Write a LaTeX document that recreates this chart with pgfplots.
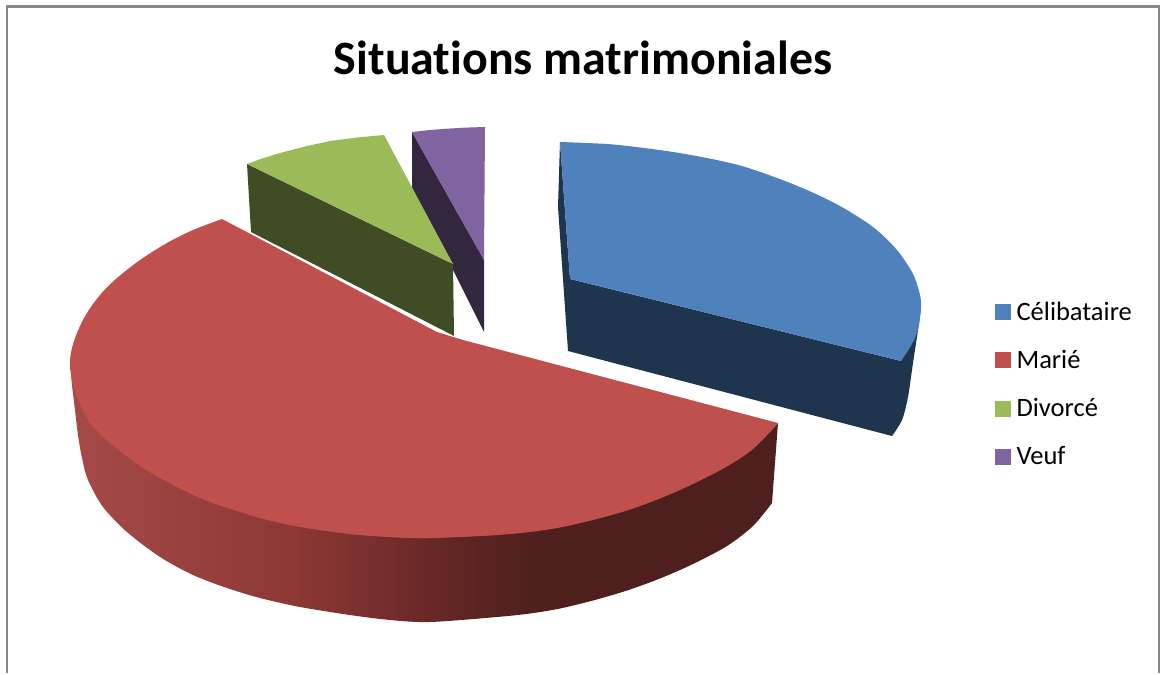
\documentclass[border=0pt]{standalone}
\usepackage{pgfplots}
\pgfplotsset{compat=1.18}
\usepackage{fontspec}
\setmainfont[Ligatures=NoCommon]{Carlito}

\definecolor{celib}{HTML}{4F81BD}
\definecolor{celibdark}{HTML}{1F344D}
\definecolor{marie}{HTML}{C0504D}
\definecolor{mariedark}{HTML}{4E1F1D}
\definecolor{divorce}{HTML}{9BBB59}
\definecolor{divorcedark}{HTML}{3F4C24}
\definecolor{veuf}{HTML}{8064A2}
\definecolor{veufdark}{HTML}{33263F}

% rim of the largest slice, darkening from left to right
\pgfdeclarehorizontalshading{rimshade}{100bp}{
  rgb(0bp)=(0.651,0.290,0.278);
  rgb(25bp)=(0.651,0.290,0.278);
  rgb(41bp)=(0.549,0.220,0.208);
  rgb(50bp)=(0.420,0.161,0.153);
  rgb(55bp)=(0.340,0.133,0.125);
  rgb(59bp)=(0.306,0.122,0.114);
  rgb(100bp)=(0.306,0.122,0.114)}

\pgfplotsset{
  swatch/.style={legend image code/.code={
    \fill[#1] (0pt,-7.5pt) rectangle (15pt,7.5pt);}},
  % curved rim of a slice, closed by its chord
  arc/.style={fill=#1, draw=none, smooth, forget plot},
  % straight-edged body of a slice, overlapping its arcs
  body/.style={fill=#1, draw=none, forget plot},
}

\begin{document}
\begin{tikzpicture}
\begin{axis}[
  scale only axis, width=1162pt, height=672pt,
  xmin=0, xmax=1162, ymin=0, ymax=672, y dir=reverse,
  hide axis, clip=false,
  legend cell align=left,
  legend style={at={(axis cs:995,299.5)}, anchor=north west, draw=none, fill=none,
    font=\fontsize{26.5}{30}\selectfont, row sep=24.5pt,
    inner xsep=0pt, inner ysep=0pt,
    nodes={inner xsep=6pt, inner ysep=2pt}},
]
% white page and its grey frame
\addplot[fill=white, draw=none, forget plot] coordinates {(0,0)(1162,0)(1162,672)(0,672)} -- cycle;
\addplot[draw=black!47, line width=2.2pt, forget plot] coordinates {(7,673)(7,6.5)(1159,6.5)(1159,673)};

% Célibataire
\addplot[arc=celibdark] coordinates {(892,436)(902,420)(908,397)(913,363)(918,330)(921,307)};
\addplot[body=celibdark] coordinates {(560,142)(558,207)(568,351)(892,436)(905,395)(921,307)(901,361)(570,279)} -- cycle;
\addplot[arc=celib] coordinates {(560,142)(607,144)(640,147.5)(673,152)(707,158)(740,165.5)(773,176.5)(807,190)(840,206)(873,227)(897,250)(913,274)(920,295)(921,307)(919,325)(915,338)(909,349)(901,361)};
\addplot[body=celib] coordinates {(560,142)(800,200)(895,300)(901,361)(570,279)} -- cycle;

% Veuf
\addplot[body=veufdark] coordinates {(412,132)(412,188)(484,332)(484,260)} -- cycle;
\addplot[body=veuf] coordinates {(412,132)(430,130)(447,128.7)(466,127.6)(485,127)(484,260)} -- cycle;

% Divorcé
\addplot[body=divorcedark] coordinates {(247,164)(251,232)(454,336)(453,264)} -- cycle;
\addplot[body=divorce] coordinates {(247,164)(262,158.5)(280,153)(305,146.5)(330,141)(357,137.5)(384,135)(453,264)} -- cycle;

% Marié
\addplot[shading=rimshade, draw=none, smooth, forget plot] coordinates {(70,360)(72,385)(75,410)(78,435)(82,458)(88,480)(103,507)(127,532)(160,557)(193,575)(227,588)(260,598)(300,607)(350,615)(390,620)(430,622)(497,617)(530,613.5)(560,608.5)(593,600.5)(627,590.5)(660,578.5)(693,564)(727,546)(753,526)(772,503)};
\addplot[body=mariedark] coordinates {(590,560)(772,503)(778,423)(590,515)} -- cycle;
\addplot[arc=marie] coordinates {(222,219)(193,230)(167,243)(140,260)(117,278)(104,290.5)(93,304)(84,318)(77,333)(72,348)(70,362)(72,380)(78,400)(88,420)(98,432)(110,443)(125,455)(143,468)(177,487)(210,502)(260,518)(300,527)(350,534)(390,537)(430,538)(497,535)};
\addplot[arc=marie] coordinates {(350,534)(390,537)(430,538)(497,535)(530,532)(560,527.5)(593,520)(627,510.5)(660,498.5)(693,484)(727,466.5)(753,449)(778,423.5)};
\addplot[body=marie] coordinates {(222,219)(437,332)(463,340)(778,423)(600,500)(430,530)(200,440)} -- cycle;

% title
\node[font=\fontsize{47.9}{56}\selectfont\bfseries, anchor=center] at (axis cs:583,58) {Situations matrimoniales};

% legend
\addlegendimage{swatch=celib}\addlegendentry{Célibataire}
\addlegendimage{swatch=marie}\addlegendentry{Marié}
\addlegendimage{swatch=divorce}\addlegendentry{Divorcé}
\addlegendimage{swatch=veuf}\addlegendentry{Veuf}
\end{axis}
\end{tikzpicture}
\end{document}
